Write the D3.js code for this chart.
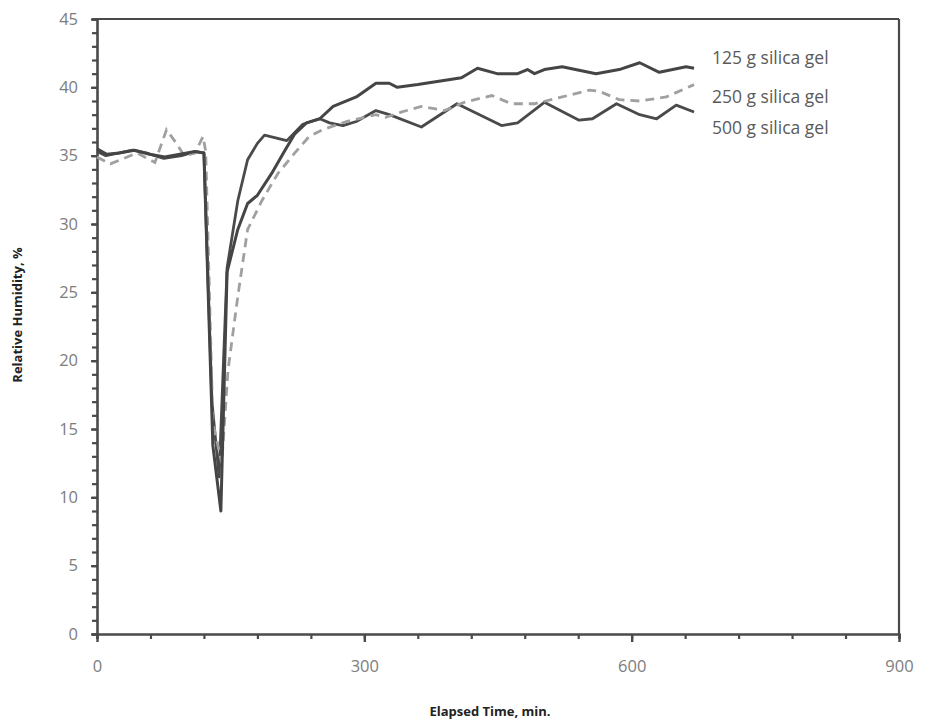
<!DOCTYPE html>
<html>
<head>
<meta charset="utf-8">
<script src="https://cdn.jsdelivr.net/npm/d3@7"></script>
<style>
  html, body { margin: 0; padding: 0; background: #fff; }
  svg { display: block; }
</style>
</head>
<body>
<svg id="chart" width="934" height="724"></svg>
<script>
// ---- data ----
const seriesNames = ["125 g silica gel", "250 g silica gel", "500 g silica gel"];

const t125 = [0, 11, 25, 42, 59, 76, 93, 110, 120, 130, 139, 146, 158, 169, 180, 196, 211, 222, 235, 250, 265, 291, 313, 328, 337, 360, 409, 427, 449, 472, 483, 491, 502, 522, 560, 586, 609, 631, 661, 670];
const v125 = [35.5, 35.1, 35.2, 35.4, 35.1, 34.9, 35.1, 35.3, 35.2, 13.8, 9.0, 26.5, 29.6, 31.5, 32.1, 33.7, 35.4, 36.6, 37.4, 37.7, 38.6, 39.3, 40.3, 40.3, 40.0, 40.2, 40.7, 41.4, 41.0, 41.0, 41.3, 41.0, 41.3, 41.5, 41.0, 41.3, 41.8, 41.1, 41.5, 41.4];

const t250 = [0, 15, 30, 45, 65, 78, 88, 98, 110, 119, 122, 130, 140, 147, 158, 169, 185, 203, 222, 238, 253, 280, 313, 324, 342, 364, 390, 412, 443, 465, 491, 522, 553, 564, 586, 609, 639, 670];
const v250 = [34.9, 34.4, 34.8, 35.2, 34.5, 36.9, 36.0, 35.0, 35.2, 36.4, 35.3, 15.5, 12.5, 19.3, 24.7, 29.6, 31.7, 33.7, 35.2, 36.4, 36.9, 37.5, 38.0, 37.8, 38.2, 38.6, 38.3, 38.9, 39.4, 38.8, 38.8, 39.3, 39.8, 39.7, 39.1, 39.0, 39.3, 40.2];

const t500 = [0, 10, 25, 40, 55, 75, 95, 110, 120, 129, 137, 146, 158, 169, 180, 188, 213, 231, 250, 261, 276, 291, 313, 328, 364, 404, 454, 472, 502, 541, 556, 583, 609, 628, 650, 670];
const v500 = [35.3, 35.0, 35.2, 35.4, 35.2, 34.8, 35.0, 35.3, 35.2, 17.0, 11.5, 26.8, 31.7, 34.7, 35.9, 36.5, 36.1, 37.3, 37.7, 37.4, 37.2, 37.5, 38.3, 38.0, 37.1, 38.8, 37.2, 37.4, 38.9, 37.6, 37.7, 38.8, 38.0, 37.7, 38.7, 38.2];

const xTickLabels = [0, 300, 600, 900];
const yTickLabels = [0, 5, 10, 15, 20, 25, 30, 35, 40, 45];
const xTitle = "Elapsed Time, min.";
const yTitle = "Relative Humidity, %";

// ---- drawing ----
const svg = d3.select("#chart");
const x = d3.scaleLinear().domain([0, 900]).range([97, 899]);
const y = d3.scaleLinear().domain([0, 45]).range([634, 19]);

const axisColor = "#4a4a4a";
const labelColor = "#7d7d7d";
const font = "'Open Sans', 'DejaVu Sans', sans-serif";

// frame top and right
svg.append("line").attr("x1", x(0)).attr("x2", x(900)).attr("y1", y(45)).attr("y2", y(45))
  .attr("stroke", axisColor).attr("stroke-width", 2.2);
svg.append("line").attr("x1", x(900)).attr("x2", x(900)).attr("y1", y(45)).attr("y2", y(0))
  .attr("stroke", axisColor).attr("stroke-width", 2.2);

// y axis: minor ticks every 1, labels every 5
const yAxisMinor = d3.axisLeft(y).tickValues(d3.range(0, 46, 1)).tickSize(5).tickFormat("");
const gyMinor = svg.append("g").attr("transform", `translate(${x(0)},0)`).call(yAxisMinor);
gyMinor.select(".domain").attr("stroke", axisColor).attr("stroke-width", 2.6);
gyMinor.selectAll(".tick line").attr("stroke", axisColor).attr("stroke-width", 2.2);

const yAxis = d3.axisLeft(y).tickValues(yTickLabels).tickSize(6).tickPadding(13).tickFormat(d3.format("d"));
const gy = svg.append("g").attr("transform", `translate(${x(0)},0)`).call(yAxis);
gy.select(".domain").remove();
gy.selectAll(".tick line").attr("stroke", axisColor).attr("stroke-width", 2.2);
gy.selectAll(".tick text").attr("fill", labelColor).attr("font-family", font).attr("font-size", 16.5);

// x axis: minor ticks every 60, labels every 300
const xAxisMinor = d3.axisBottom(x).tickValues(d3.range(0, 901, 60)).tickSize(5).tickFormat("");
const gxMinor = svg.append("g").attr("transform", `translate(0,${y(0)})`).call(xAxisMinor);
gxMinor.select(".domain").attr("stroke", axisColor).attr("stroke-width", 2.6);
gxMinor.selectAll(".tick line").attr("stroke", axisColor).attr("stroke-width", 2.2);

const xAxis = d3.axisBottom(x).tickValues(xTickLabels).tickSize(8).tickPadding(18).tickFormat(d3.format("d"));
const gx = svg.append("g").attr("transform", `translate(0,${y(0)})`).call(xAxis);
gx.select(".domain").remove();
gx.selectAll(".tick line").attr("stroke", axisColor).attr("stroke-width", 2.4);
gx.selectAll(".tick text").attr("fill", labelColor).attr("font-family", font).attr("font-size", 16.5);

// lines
const line = d3.line().x(d => x(d[0])).y(d => y(d[1]));
const data125 = t125.map((t, i) => [t, v125[i]]);
const data250 = t250.map((t, i) => [t, v250[i]]);
const data500 = t500.map((t, i) => [t, v500[i]]);

svg.append("path").datum(data500).attr("d", line).attr("fill", "none")
  .attr("stroke", "#4a4a4a").attr("stroke-width", 2.8).attr("stroke-linejoin", "round");
svg.append("path").datum(data250).attr("d", line).attr("fill", "none")
  .attr("stroke", "#a0a0a0").attr("stroke-width", 2.8).attr("stroke-dasharray", "9,6");
svg.append("path").datum(data125).attr("d", line).attr("fill", "none")
  .attr("stroke", "#454545").attr("stroke-width", 3).attr("stroke-linejoin", "round");

// series labels
const labelY = [58, 97, 128];
svg.selectAll("text.series").data(seriesNames).enter().append("text")
  .attr("class", "series")
  .attr("x", 712).attr("y", (d, i) => labelY[i]).attr("dy", "0.35em")
  .attr("fill", "#5a5a5a").attr("font-family", font).attr("font-size", 17.5)
  .text(d => d);

// axis titles
svg.append("text").attr("x", 490).attr("y", 716).attr("text-anchor", "middle")
  .attr("font-family", font).attr("font-weight", "bold").attr("font-size", 13).attr("fill", "#222")
  .text(xTitle);
svg.append("text").attr("transform", "translate(22,315) rotate(-90)").attr("text-anchor", "middle")
  .attr("font-family", font).attr("font-weight", "bold").attr("font-size", 13).attr("fill", "#222")
  .text(yTitle);
</script>
</body>
</html>
